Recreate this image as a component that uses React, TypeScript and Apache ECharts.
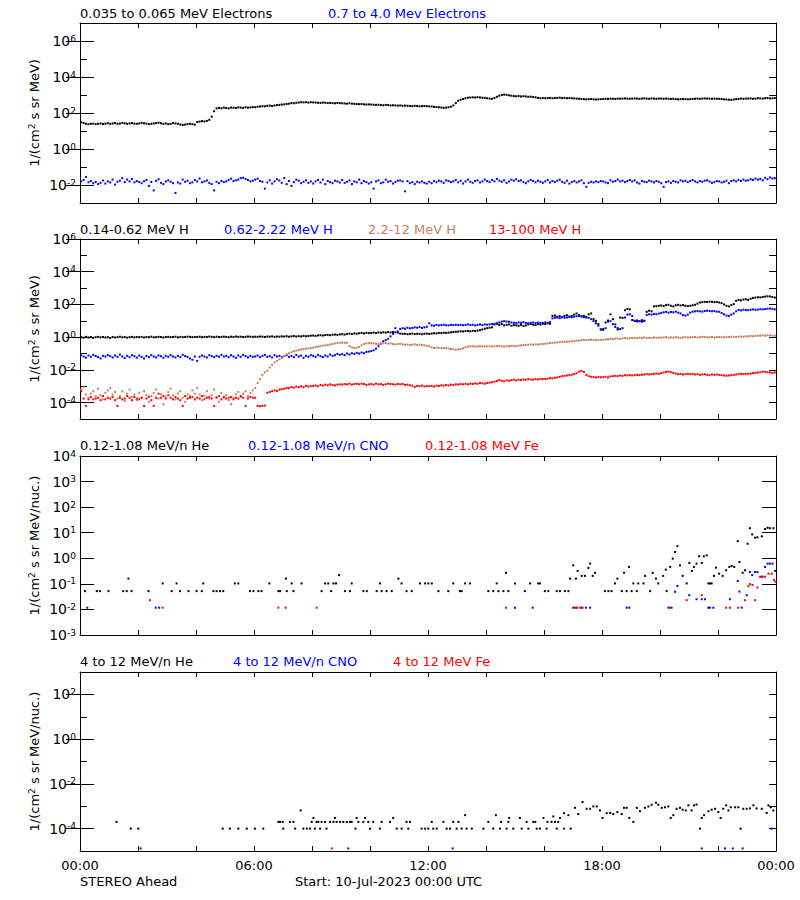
import React, { useEffect, useRef } from "react";
import * as echarts from "echarts";

const FONT = "DejaVu Sans";
const BLACK = "#000000";
const BLUE = "#0000ff";
const RED = "#ff0000";
const BROWN = "#c8805f";

// ---- Panel 1: electrons, log10 flux, 5-minute samples (12 per hour) ----
const E_LOW = [
  1.48,1.44,1.40,1.38,1.40,1.41,1.38,1.40,1.42,1.39,1.41,1.43,
  1.40,1.42,1.44,1.40,1.41,1.45,1.43,1.40,1.42,1.44,1.41,1.40,
  1.42,1.45,1.43,1.41,1.38,1.40,1.42,1.44,1.46,1.43,1.40,1.42,
  1.38,1.40,1.44,1.42,1.40,1.36,1.34,1.36,1.38,1.40,1.38,1.35,
  1.50,1.52,1.55,1.53,1.56,1.62,1.80,2.10,2.26,2.28,2.26,2.30,
  2.28,2.26,2.30,2.29,2.28,2.31,2.30,2.28,2.32,2.30,2.31,2.33,
  2.32,2.35,2.36,2.38,2.37,2.40,2.41,2.39,2.42,2.44,2.45,2.47,
  2.48,2.50,2.52,2.55,2.54,2.57,2.58,2.60,2.59,2.60,2.58,2.60,
  2.59,2.58,2.57,2.56,2.58,2.57,2.55,2.56,2.55,2.54,2.56,2.55,
  2.54,2.53,2.52,2.54,2.52,2.51,2.50,2.49,2.50,2.48,2.47,2.48,
  2.47,2.46,2.45,2.46,2.44,2.43,2.45,2.44,2.42,2.43,2.42,2.41,
  2.42,2.40,2.41,2.40,2.39,2.38,2.40,2.39,2.37,2.38,2.39,2.38,
  2.37,2.36,2.34,2.33,2.32,2.30,2.29,2.30,2.32,2.35,2.42,2.55,
  2.68,2.74,2.78,2.82,2.85,2.86,2.87,2.86,2.88,2.86,2.85,2.84,
  2.82,2.80,2.79,2.84,2.90,2.96,3.00,3.02,3.01,2.98,2.96,2.94,
  2.93,2.94,2.92,2.93,2.92,2.90,2.91,2.89,2.87,2.84,2.82,2.83,
  2.82,2.83,2.84,2.82,2.83,2.84,2.85,2.83,2.84,2.82,2.83,2.82,
  2.81,2.80,2.79,2.78,2.77,2.76,2.77,2.78,2.76,2.75,2.76,2.77,
  2.78,2.79,2.78,2.80,2.79,2.78,2.80,2.79,2.80,2.81,2.80,2.79,
  2.80,2.81,2.80,2.79,2.80,2.81,2.80,2.79,2.81,2.80,2.79,2.80,
  2.80,2.79,2.80,2.79,2.78,2.79,2.77,2.76,2.77,2.78,2.77,2.76,
  2.77,2.78,2.79,2.80,2.79,2.80,2.81,2.80,2.80,2.79,2.80,2.79,
  2.79,2.78,2.76,2.75,2.74,2.73,2.75,2.77,2.78,2.80,2.79,2.80,
  2.80,2.81,2.79,2.80,2.82,2.81,2.80,2.82,2.83,2.81,2.82,2.83,
];

const E_HIGH = [
  -1.80,-1.72,-1.55,-1.85,-1.78,-1.90,-1.83,-1.95,-1.88,-1.75,-1.92,-1.80,
  -1.86,-1.70,-1.98,-1.82,-1.76,-1.62,-1.84,-1.70,-1.80,-1.66,-1.85,-1.78,
  -1.84,-1.90,-1.79,-1.72,-2.05,-1.83,-2.30,-1.77,-1.68,-1.88,-1.95,-1.80,
  -1.74,-1.82,-1.90,-2.44,-1.86,-1.92,-1.70,-1.82,-1.76,-1.90,-1.85,-1.72,
  -1.80,-1.64,-1.85,-1.80,-1.75,-1.88,-1.95,-2.30,-1.82,-1.90,-1.78,-1.84,
  -1.80,-1.72,-1.65,-1.78,-1.74,-1.70,-1.62,-1.60,-1.66,-1.72,-1.80,-1.76,
  -1.70,-1.65,-1.78,-1.82,-2.20,-1.86,-1.74,-1.92,-1.80,-1.68,-1.75,-1.88,
  -1.62,-1.95,-1.78,-2.05,-1.84,-1.70,-1.76,-1.90,-1.82,-1.74,-1.88,-1.80,
  -1.92,-1.80,-1.72,-1.86,-1.70,-1.95,-1.78,-1.84,-1.90,-1.76,-1.80,-1.86,
  -1.72,-1.88,-1.82,-1.75,-1.95,-1.80,-1.85,-1.70,-1.90,-1.78,-1.84,-1.92,
  -1.85,-2.20,-1.80,-1.74,-1.90,-1.85,-1.70,-1.82,-1.78,-1.92,-1.84,-1.76,
  -1.75,-1.80,-2.35,-1.78,-1.90,-1.84,-1.95,-1.82,-1.86,-1.80,-1.88,-1.92,
  -1.82,-1.90,-1.78,-1.85,-1.76,-1.80,-1.88,-1.74,-1.78,-1.84,-1.80,-1.72,
  -1.85,-1.76,-1.92,-1.80,-1.70,-1.82,-1.88,-1.78,-1.74,-1.86,-1.80,-1.70,
  -1.78,-1.84,-1.72,-1.80,-1.66,-1.76,-1.82,-1.74,-1.88,-1.80,-1.70,-1.76,
  -1.68,-1.78,-1.74,-1.84,-1.90,-1.80,-1.72,-1.78,-1.85,-1.76,-1.82,-1.88,
  -1.80,-1.72,-1.86,-1.78,-1.84,-1.76,-1.70,-1.82,-1.88,-1.76,-1.92,-1.84,
  -1.78,-1.86,-1.80,-1.74,-1.90,-2.10,-1.88,-1.82,-1.86,-1.80,-1.84,-1.78,
  -1.80,-1.86,-1.90,-1.74,-1.82,-1.78,-1.70,-1.80,-1.76,-1.84,-1.78,-1.72,
  -1.80,-1.74,-1.86,-1.92,-1.78,-1.82,-1.84,-1.76,-1.80,-1.86,-1.78,-1.82,
  -1.90,-2.10,-1.84,-1.80,-1.88,-1.78,-1.82,-1.86,-1.74,-1.80,-1.76,-1.84,
  -1.78,-1.72,-1.80,-1.86,-1.78,-1.82,-1.76,-1.74,-1.80,-1.88,-1.84,-1.78,
  -1.80,-1.86,-1.82,-1.76,-1.90,-1.78,-1.74,-1.80,-1.72,-1.78,-1.70,-1.76,
  -1.74,-1.68,-1.72,-1.64,-1.70,-1.66,-1.74,-1.60,-1.68,-1.58,-1.64,-1.62,
];

// ---- Panel 2: protons, log10 flux, 5-minute samples ----
const H_LOW = [
  0.00,-0.03,0.02,-0.02,0.01,-0.04,0.00,0.02,-0.01,0.01,-0.02,0.00,
  -0.05,0.01,-0.02,0.00,0.03,-0.01,0.01,-0.03,0.00,0.02,-0.01,0.01,
  0.00,0.02,-0.02,0.01,0.00,0.03,-0.01,0.00,0.02,0.01,-0.02,0.01,
  0.02,0.00,0.01,0.03,-0.01,0.02,0.00,0.01,0.03,0.02,0.00,0.01,
  0.01,0.03,0.00,0.02,0.01,0.04,0.02,0.00,0.03,0.01,0.02,0.03,
  0.02,0.00,0.03,0.01,0.04,0.02,0.03,0.01,0.02,0.04,0.03,0.02,
  0.03,0.02,0.04,0.03,0.01,0.04,0.03,0.05,0.02,0.04,0.03,0.05,
  0.04,0.06,0.03,0.05,0.07,0.04,0.06,0.05,0.08,0.06,0.07,0.09,
  0.10,0.08,0.11,0.12,0.10,0.13,0.14,0.12,0.15,0.16,0.14,0.17,
  0.18,0.16,0.20,0.22,0.19,0.23,0.21,0.24,0.26,0.23,0.27,0.25,
  0.26,0.28,0.25,0.29,0.27,0.30,0.28,0.31,0.29,0.32,0.30,0.28,
  0.22,0.20,0.21,0.18,0.20,0.22,0.19,0.21,0.20,0.18,0.21,0.22,
  0.20,0.22,0.24,0.23,0.26,0.25,0.27,0.26,0.28,0.30,0.31,0.33,
  0.34,0.36,0.35,0.37,0.38,0.36,0.39,0.38,0.40,0.43,0.47,0.52,
  0.55,0.58,0.60,0.78,0.82,0.75,0.80,0.72,0.76,0.78,0.70,0.74,
  0.72,0.70,0.75,0.68,0.72,0.78,0.80,0.76,0.74,0.80,0.78,0.82,
  0.80,0.85,0.82,1.30,1.32,1.25,1.28,1.22,1.30,1.34,1.26,1.30,
  1.38,1.45,1.35,1.28,1.30,1.25,1.40,1.45,1.10,1.00,0.80,0.47,
  0.45,0.90,1.02,1.40,1.10,0.78,0.47,1.20,1.18,1.65,1.73,1.70,
  1.05,1.00,1.02,0.98,1.04,1.00,1.55,1.62,1.58,1.88,1.90,1.92,
  1.94,1.90,1.96,1.98,1.92,1.88,1.95,1.98,1.94,1.96,1.92,1.90,
  1.92,1.95,1.98,2.05,2.12,2.14,2.16,2.15,2.17,2.16,2.14,2.15,
  2.12,2.08,2.00,1.92,1.88,1.96,2.02,2.22,2.28,2.25,2.30,2.32,
  2.28,2.35,2.40,2.42,2.44,2.43,2.45,2.48,2.50,2.49,2.46,2.42,
];

const H_MID = [
  -1.10,-1.18,-1.25,-1.12,-1.20,-1.08,-1.15,-1.22,-1.30,-1.14,-1.18,-1.10,
  -1.16,-1.24,-1.12,-1.20,-1.06,-1.18,-1.28,-1.14,-1.22,-1.10,-1.16,-1.25,
  -1.12,-1.20,-1.30,-1.15,-1.22,-1.10,-1.18,-1.24,-1.12,-1.16,-1.26,-1.14,
  -1.20,-1.10,-1.18,-1.24,-1.14,-1.22,-1.08,-1.16,-1.20,-1.30,-1.38,-1.18,
  -1.45,-1.20,-1.12,-1.18,-1.24,-1.10,-1.16,-1.22,-1.14,-1.20,-1.08,-1.18,
  -1.14,-1.22,-1.10,-1.18,-1.26,-1.12,-1.20,-1.08,-1.16,-1.24,-1.14,-1.20,
  -1.18,-1.12,-1.22,-1.14,-1.08,-1.20,-1.16,-1.24,-1.10,-1.18,-1.14,-1.22,
  -1.16,-1.10,-1.20,-1.14,-1.22,-1.08,-1.18,-1.12,-1.26,-1.14,-1.20,-1.10,
  -1.14,-1.20,-1.08,-1.16,-1.22,-1.12,-1.18,-1.06,-1.14,-1.10,-1.02,-1.08,
  -1.04,-1.10,-1.00,-1.06,-0.98,-1.02,-0.96,-1.00,-0.94,-0.98,-0.90,-0.88,
  -0.85,-0.80,-0.70,-0.55,-0.40,-0.25,-0.18,-0.10,0.05,0.20,0.55,0.35,
  0.50,0.55,0.52,0.58,0.54,0.56,0.60,0.58,0.62,0.57,0.60,0.64,
  0.85,0.72,0.70,0.75,0.72,0.74,0.76,0.73,0.72,0.75,0.74,0.76,
  0.74,0.76,0.73,0.75,0.78,0.74,0.76,0.72,0.75,0.78,0.74,0.78,
  0.76,0.78,0.80,0.82,0.85,0.90,0.95,0.98,0.96,0.94,0.90,0.88,
  0.86,0.90,0.88,0.92,0.87,0.85,0.88,0.90,0.86,0.89,0.88,0.87,
  0.90,0.88,0.92,1.15,1.18,1.20,1.16,1.22,1.18,1.20,1.24,1.22,
  1.25,1.28,1.30,1.26,1.22,1.20,1.18,1.10,0.98,0.85,0.70,0.47,
  0.50,0.55,0.95,0.98,0.80,0.62,0.55,0.50,0.55,1.20,1.38,1.40,
  1.30,1.00,0.96,0.98,0.94,1.00,1.35,1.40,1.38,1.42,1.40,1.44,
  1.48,1.52,1.55,1.50,1.54,1.52,1.56,1.50,1.45,1.35,1.32,1.38,
  1.50,1.56,1.58,1.60,1.58,1.56,1.60,1.62,1.60,1.58,1.60,1.56,
  1.55,1.48,1.40,1.32,1.30,1.38,1.45,1.58,1.66,1.64,1.68,1.66,
  1.65,1.68,1.70,1.67,1.69,1.71,1.70,1.72,1.74,1.75,1.73,1.70,
];

const H_HIGH = [
  -3.20,-3.05,-3.50,-3.70,-3.45,-3.30,-3.60,-3.15,-3.55,-3.80,-3.40,-3.25,
  -3.10,-3.50,-3.35,-3.75,-3.60,-3.30,-3.90,-3.45,-3.20,-3.65,-3.50,-3.85,
  -3.40,-3.70,-3.30,-3.55,-3.95,-3.60,-3.40,-3.20,-3.75,-3.50,-4.10,-3.65,
  -3.35,-3.15,-3.55,-3.80,-3.45,-3.30,-3.70,-3.95,-3.50,-3.60,-3.25,-3.45,
  -3.10,-3.50,-3.85,-3.60,-3.30,-3.75,-3.55,-3.20,-3.65,-3.95,-3.40,-3.70,
  -3.55,-3.85,-4.10,-3.70,-3.50,-3.35,-3.65,-3.45,-3.30,-3.60,-3.40,-3.25,
  -3.10,-2.80,-2.55,-2.30,-2.15,-2.05,-1.85,-1.70,-1.55,-1.45,-1.35,-1.26,
  -1.15,-1.05,-0.98,-0.92,-0.86,-0.82,-0.78,-0.75,-0.72,-0.70,-0.68,-0.66,
  -0.64,-0.60,-0.58,-0.55,-0.52,-0.50,-0.48,-0.45,-0.42,-0.38,-0.35,-0.34,
  -0.33,-0.35,-0.34,-0.55,-0.62,-0.66,-0.64,-0.60,-0.50,-0.42,-0.38,-0.36,
  -0.36,-0.38,-0.40,-0.42,-0.40,-0.38,-0.36,-0.40,-0.38,-0.42,-0.44,-0.42,
  -0.40,-0.44,-0.46,-0.45,-0.48,-0.46,-0.44,-0.47,-0.45,-0.48,-0.50,-0.52,
  -0.55,-0.62,-0.66,-0.64,-0.65,-0.67,-0.66,-0.68,-0.70,-0.72,-0.74,-0.76,
  -0.75,-0.72,-0.68,-0.62,-0.58,-0.56,-0.55,-0.57,-0.56,-0.55,-0.57,-0.56,
  -0.56,-0.55,-0.57,-0.56,-0.55,-0.54,-0.56,-0.57,-0.55,-0.56,-0.54,-0.55,
  -0.54,-0.52,-0.50,-0.48,-0.46,-0.47,-0.45,-0.46,-0.44,-0.45,-0.43,-0.42,
  -0.40,-0.38,-0.36,-0.35,-0.33,-0.32,-0.30,-0.28,-0.29,-0.27,-0.26,-0.25,
  -0.24,-0.20,-0.22,-0.18,-0.16,-0.18,-0.17,-0.15,-0.17,-0.16,-0.18,-0.16,
  -0.15,-0.14,-0.12,-0.10,-0.12,-0.09,-0.08,-0.10,-0.07,-0.06,-0.08,-0.06,
  -0.05,-0.04,-0.06,-0.03,-0.05,-0.02,-0.04,-0.03,-0.05,-0.02,-0.04,-0.03,
  -0.03,-0.02,0.00,-0.04,-0.01,-0.03,0.00,-0.02,-0.04,-0.01,0.00,-0.02,
  -0.01,0.00,0.01,-0.02,0.00,0.02,0.01,-0.01,0.00,0.01,-0.02,0.00,
  0.01,0.00,-0.01,0.02,0.01,0.03,0.02,0.01,0.03,0.04,0.03,0.05,
  0.05,0.07,0.06,0.08,0.09,0.10,0.11,0.10,0.12,0.11,0.10,0.09,
];

const H_TOP = [
  -3.30,-3.75,-4.20,-3.80,-3.65,-3.80,-3.75,-3.70,-3.85,-3.60,-3.80,-3.70,
  -3.75,-3.65,-3.85,-4.20,-3.70,-3.80,-3.75,-3.60,-3.70,-3.85,-3.65,-3.75,
  -3.80,-3.70,-4.20,-3.75,-3.65,-3.85,-4.20,-3.70,-3.45,-3.70,-3.60,-3.75,
  -3.55,-3.70,-3.80,-3.65,-3.75,-3.85,-4.20,-3.60,-3.75,-3.70,-3.65,-3.80,
  -3.70,-3.75,-3.60,-3.80,-3.70,-3.65,-3.75,-4.20,-3.70,-3.60,-3.80,-3.65,
  -3.75,-3.70,-3.65,-3.80,-3.70,-3.75,-3.60,-3.70,-4.20,-3.75,-3.65,-3.70,
  -3.70,-4.20,-4.22,-4.20,-4.18,-3.40,-3.35,-3.30,-3.25,-3.28,-3.20,-3.18,
  -3.15,-3.10,-3.12,-3.05,-3.08,-3.02,-3.05,-3.00,-3.06,-2.98,-3.02,-3.00,
  -2.98,-2.95,-3.00,-2.92,-2.96,-2.90,-2.94,-2.88,-2.92,-2.95,-2.90,-2.88,
  -2.90,-2.86,-2.88,-2.84,-2.90,-2.86,-2.85,-2.88,-2.84,-2.86,-2.92,-2.88,
  -2.86,-2.90,-2.84,-2.88,-2.86,-2.92,-2.88,-2.84,-2.86,-2.88,-2.90,-2.86,
  -2.88,-2.86,-2.92,-2.90,-2.94,-2.96,-3.05,-2.98,-3.00,-2.96,-3.02,-2.98,
  -3.00,-2.98,-3.02,-2.96,-2.98,-2.94,-2.96,-2.92,-2.95,-2.90,-2.92,-2.88,
  -2.90,-2.86,-2.88,-2.85,-2.88,-2.84,-2.86,-2.82,-2.85,-2.80,-2.82,-2.84,
  -2.80,-2.78,-2.76,-2.72,-2.68,-2.62,-2.66,-2.70,-2.64,-2.66,-2.62,-2.60,
  -2.64,-2.60,-2.62,-2.58,-2.60,-2.56,-2.58,-2.60,-2.56,-2.58,-2.55,-2.56,
  -2.56,-2.54,-2.50,-2.52,-2.48,-2.46,-2.42,-2.38,-2.36,-2.34,-2.32,-2.30,
  -2.25,-2.20,-2.10,-2.06,-2.12,-2.30,-2.38,-2.42,-2.44,-2.46,-2.44,-2.45,
  -2.44,-2.42,-2.46,-2.40,-2.38,-2.36,-2.38,-2.34,-2.36,-2.32,-2.34,-2.32,
  -2.34,-2.32,-2.30,-2.32,-2.30,-2.28,-2.26,-2.28,-2.26,-2.24,-2.22,-2.24,
  -2.20,-2.16,-2.12,-2.10,-2.14,-2.18,-2.22,-2.26,-2.24,-2.28,-2.26,-2.24,
  -2.26,-2.24,-2.28,-2.26,-2.30,-2.28,-2.26,-2.30,-2.32,-2.28,-2.30,-2.28,
  -2.30,-2.32,-2.34,-2.36,-2.34,-2.32,-2.30,-2.28,-2.26,-2.24,-2.26,-2.24,
  -2.24,-2.22,-2.20,-2.18,-2.16,-2.14,-2.10,-2.12,-2.14,-2.16,-2.18,-2.16,
];

// ---- Panel 3: 0.12-1.08 MeV/n ions, [hour, flux] (zero counts omitted) ----
const P3_HE = [
  [0.17,0.052],[0.58,0.052],[0.69,0.052],[0.98,0.052],[1.49,0.052],[1.61,0.052],[1.67,0.16],[1.78,0.052],
  [2.36,0.052],[2.85,0.104],[3.16,0.052],[3.33,0.104],[3.45,0.052],[3.74,0.052],[4.02,0.052],[4.2,0.052],
  [4.25,0.104],[4.6,0.052],[4.71,0.052],[4.83,0.052],[4.94,0.052],[5.34,0.104],[5.46,0.104],[5.86,0.052],
  [5.98,0.052],[6.15,0.052],[6.26,0.052],[6.53,0.104],[6.84,0.052],[6.9,0.052],[7.1,0.16],[7.13,0.052],
  [7.3,0.104],[7.36,0.052],[7.64,0.104],[8.33,0.052],[8.45,0.104],[8.56,0.104],[8.66,0.052],[8.74,0.104],
  [8.83,0.104],[8.93,0.22],[9.14,0.052],[9.31,0.052],[9.37,0.104],[9.77,0.052],[9.89,0.052],[10.23,0.052],
  [10.34,0.104],[10.4,0.052],[10.57,0.052],[10.75,0.052],[10.98,0.16],
  [11.09,0.104],[11.26,0.052],[11.44,0.052],[11.72,0.104],[11.9,0.104],[12.01,0.104],[12.13,0.104],[12.36,0.052],
  [12.7,0.052],[12.87,0.104],[13.1,0.052],[13.16,0.052],[13.28,0.104],[13.45,0.104],[14.08,0.052],[14.25,0.052],
  [14.37,0.104],[14.43,0.052],[14.6,0.052],[14.69,0.27],[14.77,0.052],[15.0,0.104],[15.34,0.052],[15.52,0.104],
  [15.8,0.104],[15.86,0.104],[16.03,0.052],[16.15,0.052],[16.44,0.052],[16.55,0.052],[16.72,0.052],[16.84,0.052],
  [16.9,0.16],[17.01,0.53],[17.1,0.16],[17.16,0.32],[17.3,0.205],[17.41,0.205],[17.53,0.42],[17.59,0.62],
  [17.68,0.205],[17.76,0.27],[18.1,0.052],[18.22,0.052],[18.33,0.052],[18.45,0.104],[18.53,0.16],[18.68,0.052],
  [18.76,0.27],[18.85,0.052],[18.93,0.46],[19.02,0.052],[19.08,0.104],[19.2,0.052],[19.25,0.104],[19.43,0.104],
  [19.48,0.205],[19.66,0.052],[19.75,0.27],[19.86,0.16],[19.94,0.104],[20.11,0.205],[20.2,0.36],[20.23,0.052],
  [20.35,0.46],[20.44,0.97],[20.52,1.76],[20.6,3.0],[20.69,0.53],[20.78,0.205],[20.92,0.104],[21.01,0.66],
  [21.1,0.32],[21.17,0.46],[21.26,0.62],[21.35,1.2],[21.44,0.66],[21.51,1.2],[21.61,1.3],[21.67,0.104],
  [21.72,0.104],[21.78,0.104],[21.86,0.205],[21.93,0.43],[22.04,0.25],[22.16,0.205],[22.28,0.34],[22.39,0.46],
  [22.47,0.5],[22.56,0.46],[22.68,4.7],[22.74,0.72],[22.85,0.27],[22.93,0.34],[23.02,3.7],[23.1,15],
  [23.18,8.6],[23.28,6.4],[23.36,6.6],[23.51,7.2],[23.62,14],[23.71,15.7],[23.79,15],[23.91,15],
];

const P3_CNO = [
  [0.25,0.0117],[2.61,0.0117],[2.73,0.0117],[15.0,0.0117],[15.61,0.0117],[17.01,0.0117],[17.13,0.0117],[17.3,0.0117],
  [17.44,0.0117],[17.59,0.0117],[18.85,0.0117],[18.94,0.0117],[20.29,0.0117],[20.4,0.0117],[20.52,0.049],[20.6,0.083],
  [21.01,0.036],[21.26,0.025],[21.44,0.025],[21.55,0.025],[21.67,0.0117],[21.72,0.0117],[21.84,0.0117],[22.41,0.025],
  [22.68,0.13],[22.74,0.05],[22.82,0.0117],[22.99,0.036],[23.1,0.29],[23.18,0.22],[23.28,0.29],[23.36,0.29],
  [23.51,0.19],[23.62,0.46],[23.71,0.62],[23.79,0.62],[23.88,0.62],[23.97,0.32],
];

const P3_FE = [
  [2.41,0.023],[2.85,0.0117],[6.84,0.0117],[7.09,0.0117],[8.16,0.0117],[14.69,0.0117],[17.07,0.0117],[17.13,0.0117],
  [17.24,0.0117],[17.33,0.0117],[20.35,0.0117],[20.92,0.023],[21.44,0.036],[22.28,0.0117],[22.41,0.0117],[22.7,0.0117],
  [22.93,0.023],[23.05,0.081],[23.1,0.098],[23.19,0.09],[23.28,0.023],[23.36,0.072],[23.45,0.19],[23.54,0.19],
  [23.62,0.19],[23.74,0.25],[23.85,0.25],[23.93,0.14],[23.99,0.12],
];

// ---- Panel 4: 4-12 MeV/n ions, [hour, flux] ----
const P4_HE = [
  [1.26,2e-4],[1.75,1e-4],[2.01,1e-4],[4.92,1e-4],[5.17,1e-4],[5.46,1e-4],[5.75,1e-4],[6.03,1e-4],
  [6.32,1e-4],[6.84,2e-4],[6.9,2e-4],[6.99,2e-4],[7.01,1e-4],[7.24,2e-4],[7.36,2e-4],[7.42,1e-4],
  [7.61,6.5e-4],[7.7,1e-4],[7.82,1e-4],[7.93,1e-4],[7.99,2e-4],[8.05,3e-4],[8.1,1e-4],[8.16,2e-4],
  [8.22,2e-4],[8.28,1e-4],[8.33,2e-4],[8.45,2e-4],[8.5,1e-4],[8.62,2e-4],[8.74,2e-4],[8.79,3e-4],
  [8.85,2e-4],[8.97,2e-4],[9.08,2e-4],[9.2,2e-4],[9.31,2e-4],[9.37,2e-4],[9.5,1e-4],[9.54,3e-4],
  [9.6,2e-4],[9.77,2e-4],[9.83,3e-4],[9.94,2e-4],[10.0,1e-4],[10.11,2e-4],[10.34,1e-4],[10.4,2e-4],
  [10.69,2e-4],[10.8,3e-4],[10.92,1e-4],
  [11.09,1e-4],[11.26,2e-4],[11.32,1e-4],[11.38,2e-4],[11.78,1e-4],[11.9,1e-4],[12.01,1e-4],[12.13,2e-4],
  [12.18,1e-4],[12.3,1e-4],[12.53,2e-4],[12.64,1e-4],[12.76,1e-4],[12.87,2e-4],[12.99,1e-4],[13.05,2e-4],
  [13.16,1e-4],[13.28,4e-4],[13.33,1e-4],[13.51,1e-4],[13.91,1e-4],[14.08,2e-4],[14.25,1e-4],[14.34,4e-4],
  [14.48,1e-4],[14.52,2e-4],[14.71,1e-4],[14.77,2e-4],[14.8,3e-4],[14.94,1e-4],[15.17,3e-4],[15.23,1e-4],
  [15.4,2e-4],[15.46,1e-4],[15.63,2e-4],[15.7,2e-4],[15.75,1e-4],[15.86,1e-4],[15.98,3e-4],[16.09,1e-4],
  [16.12,2e-4],[16.26,2e-4],[16.32,3.5e-4],[16.38,2e-4],[16.44,1e-4],[16.49,2e-4],[16.55,3e-4],[16.69,4.9e-4],
  [16.84,4e-4],[16.92,1e-4],[17.07,8.5e-4],[17.18,4.5e-4],[17.33,1.55e-3],[17.47,7.7e-4],[17.59,7.7e-4],[17.7,9.8e-4],
  [17.82,9.8e-4],[17.93,6.5e-4],[18.02,3e-4],[18.16,4.9e-4],[18.28,5e-4],[18.39,4.5e-4],[18.53,5.5e-4],[18.68,4.5e-4],
  [18.76,8.5e-4],[18.85,8.5e-4],[18.94,3e-4],[19.08,2e-4],[19.2,8.5e-4],[19.31,6e-4],[19.48,8.5e-4],[19.6,9.8e-4],
  [19.71,1.17e-3],[19.86,1.44e-3],[19.94,1.17e-3],[20.06,8.5e-4],[20.17,9e-4],[20.29,9.8e-4],[20.37,3e-4],[20.46,4e-4],
  [20.57,7.7e-4],[20.69,8.5e-4],[20.78,7e-4],[20.89,6.5e-4],[20.98,1.1e-3],[21.09,6.5e-4],[21.17,1.1e-3],[21.26,1.2e-3],
  [21.38,1e-4],[21.44,3e-4],[21.52,4e-4],[21.67,6e-4],[21.78,7e-4],[21.9,7.7e-4],[22.01,5.5e-4],[22.09,3e-4],
  [22.18,7.7e-4],[22.28,1.1e-3],[22.36,6.5e-4],[22.44,9e-4],[22.59,9e-4],[22.7,9e-4],[22.78,1e-4],[22.87,7.7e-4],
  [22.99,7.7e-4],[23.1,8e-4],[23.22,1.1e-3],[23.33,8e-4],[23.51,7.7e-4],[23.68,5e-4],[23.74,1.1e-3],[23.82,9e-4],
  [23.91,6.5e-4],
];

const P4_CNO = [
  [2.09,1.3e-5],[9.25,1.3e-5],[12.85,1.3e-5],[16.69,1e-4],[21.44,1.3e-5],[22.24,1.3e-5],[22.51,1.3e-5],[22.85,1.3e-5],
  [23.85,1e-4],
];

const P4_FE = [[8.68,1.3e-5]];

// ---- Axes: exponent ranges and labelled decades ----
const Y_MIN = [-3, -5, -3, -5];
const Y_MAX = [7, 6, 4, 3];
const Y_LABELED = [
  [-2, 0, 2, 4, 6],
  [-4, -2, 0, 2, 4, 6],
  [-3, -2, -1, 0, 1, 2, 3, 4],
  [-4, -2, 0, 2],
];
const TIME_TICKS = [0, 6, 12, 18, 24];
const TIME_LABELS = ["00:00", "06:00", "12:00", "18:00", "00:00"];

const TITLES = [
  [["0.035 to 0.065 MeV Electrons", BLACK], ["0.7 to 4.0 Mev Electrons", BLUE]],
  [["0.14-0.62 MeV H", BLACK], ["0.62-2.22 MeV H", BLUE], ["2.2-12 MeV H", BROWN], ["13-100 MeV H", RED]],
  [["0.12-1.08 MeV/n He", BLACK], ["0.12-1.08 MeV/n CNO", BLUE], ["0.12-1.08 MeV Fe", RED]],
  [["4 to 12 MeV/n He", BLACK], ["4 to 12 MeV/n CNO", BLUE], ["4 to 12 MeV Fe", RED]],
];
const UNIT_NAMES = ["MeV)", "MeV)", "MeV/nuc.)", "MeV/nuc.)"];

// ---- Layout ----
const LAYOUT = {
  left: 80,
  width: 696,
  tops: [23, 239, 456, 672],
  heights: [180, 180, 179, 179],
  titleY: [13, 229, 445, 661],
  titleX: [[80, 328], [80, 224, 368, 489], [80, 248, 425], [80, 233, 393]],
};

const dense = (arr: number[]) => arr.map((v, i) => [(i + 0.5) / 12, v]);
const sparse = (arr: number[][]) => arr.map(([h, v]) => [h, Math.log10(v)]);

function buildOption() {
  const grid: any[] = [];
  const xAxis: any[] = [];
  const yAxis: any[] = [];
  const mainY: number[] = [];
  const graphic: any[] = [];

  const labelRich = {
    b: { fontSize: 14, fontFamily: FONT, color: BLACK },
    e: { fontSize: 9, fontFamily: FONT, color: BLACK, verticalAlign: "top" },
  };

  for (let p = 0; p < 4; p++) {
    grid.push({ left: LAYOUT.left, top: LAYOUT.tops[p], width: LAYOUT.width, height: LAYOUT.heights[p] });

    const xBase = {
      type: "value",
      gridIndex: p,
      min: 0,
      max: 24,
      interval: 2,
      splitLine: { show: false },
      axisLine: { show: true, onZero: false, lineStyle: { color: BLACK, width: 1 } },
      axisTick: { show: true, inside: true, length: 5, lineStyle: { color: BLACK, width: 1 } },
    };
    xAxis.push({
      ...xBase,
      position: "bottom",
      axisLabel:
        p === 3
          ? {
              show: true,
              margin: 8,
              showMinLabel: true,
              showMaxLabel: true,
              fontSize: 13,
              fontFamily: FONT,
              color: BLACK,
              formatter: (v: number) => {
                const k = TIME_TICKS.indexOf(Math.round(v));
                return k >= 0 && Math.abs(v - Math.round(v)) < 1e-6 ? TIME_LABELS[k] : "";
              },
            }
          : { show: false },
    });
    xAxis.push({ ...xBase, position: "top", axisLabel: { show: false } });

    const allLong = p === 2;
    const yBase = {
      type: "value",
      gridIndex: p,
      min: Y_MIN[p],
      max: Y_MAX[p],
      interval: 1,
      splitLine: { show: false },
      axisLine: { show: true, onZero: false, lineStyle: { color: BLACK, width: 1 } },
    };
    const tickMain = { show: true, inside: true, length: allLong ? 14 : 7, lineStyle: { color: BLACK, width: 1 } };
    mainY.push(yAxis.length);
    yAxis.push({
      ...yBase,
      position: "left",
      axisTick: tickMain,
      axisLabel: {
        show: true,
        margin: 4,
        showMinLabel: true,
        showMaxLabel: true,
        formatter: (v: number) => {
          const r = Math.round(v);
          return Y_LABELED[p].includes(r) && Math.abs(v - r) < 1e-6 ? `{b|10}{e|${r}}` : "";
        },
        rich: labelRich,
      },
    });
    yAxis.push({ ...yBase, position: "right", axisTick: tickMain, axisLabel: { show: false } });
    if (!allLong) {
      const tickLong = {
        show: true,
        inside: true,
        length: 14,
        customValues: Y_LABELED[p],
        lineStyle: { color: BLACK, width: 1 },
      };
      yAxis.push({ ...yBase, position: "left", axisLine: { show: false }, axisTick: tickLong, axisLabel: { show: false } });
      yAxis.push({ ...yBase, position: "right", axisLine: { show: false }, axisTick: tickLong, axisLabel: { show: false } });
    }

    // titles
    TITLES[p].forEach(([text, color], k) => {
      graphic.push({
        type: "text",
        x: LAYOUT.titleX[p][k],
        y: LAYOUT.titleY[p],
        silent: true,
        style: { text, fill: color, fontSize: 13, fontFamily: FONT, align: "left", verticalAlign: "middle" },
      });
    });
    // y axis name
    graphic.push({
      type: "text",
      x: 34,
      y: LAYOUT.tops[p] + LAYOUT.heights[p] / 2,
      rotation: Math.PI / 2,
      silent: true,
      style: {
        text: `{n|1/(cm}{s|2}{n| s sr ${UNIT_NAMES[p]}}`,
        align: "center",
        verticalAlign: "middle",
        rich: {
          n: { fontSize: 13, fontFamily: FONT, fill: BLACK },
          s: { fontSize: 9, fontFamily: FONT, fill: BLACK, verticalAlign: "top" },
        },
      },
    });
  }

  graphic.push({
    type: "text",
    x: 80,
    y: 881,
    silent: true,
    style: { text: "STEREO Ahead", fill: BLACK, fontSize: 13, fontFamily: FONT, align: "left", verticalAlign: "middle" },
  });
  graphic.push({
    type: "text",
    x: 295,
    y: 881,
    silent: true,
    style: {
      text: "Start: 10-Jul-2023 00:00 UTC",
      fill: BLACK,
      fontSize: 13,
      fontFamily: FONT,
      align: "left",
      verticalAlign: "middle",
    },
  });

  const sc = (name: string, data: number[][], color: string, p: number) => ({
    type: "scatter",
    name,
    xAxisIndex: 2 * p,
    yAxisIndex: mainY[p],
    data,
    symbol: "rect",
    symbolSize: 2,
    itemStyle: { color, opacity: 1 },
    silent: true,
    clip: true,
    emphasis: { disabled: true },
  });

  const series = [
    sc("0.035-0.065 MeV e", dense(E_LOW), BLACK, 0),
    sc("0.7-4.0 MeV e", dense(E_HIGH), BLUE, 0),
    sc("0.14-0.62 MeV H", dense(H_LOW), BLACK, 1),
    sc("0.62-2.22 MeV H", dense(H_MID), BLUE, 1),
    sc("2.2-12 MeV H", dense(H_HIGH), BROWN, 1),
    sc("13-100 MeV H", dense(H_TOP), RED, 1),
    sc("0.12-1.08 He", sparse(P3_HE), BLACK, 2),
    sc("0.12-1.08 CNO", sparse(P3_CNO), BLUE, 2),
    sc("0.12-1.08 Fe", sparse(P3_FE), RED, 2),
    sc("4-12 He", sparse(P4_HE), BLACK, 3),
    sc("4-12 CNO", sparse(P4_CNO), BLUE, 3),
    sc("4-12 Fe", sparse(P4_FE), RED, 3),
  ];

  return {
    animation: false,
    backgroundColor: "#ffffff",
    textStyle: { fontFamily: FONT },
    grid,
    xAxis,
    yAxis,
    series,
    graphic,
  };
}

export default function App() {
  const ref = useRef<HTMLDivElement>(null);
  useEffect(() => {
    if (!ref.current) return;
    const chart = echarts.init(ref.current, undefined, { renderer: "svg" });
    chart.setOption(buildOption() as any);
    return () => chart.dispose();
  }, []);
  return (
    <div
      ref={ref}
      style={{ position: "absolute", left: 0, top: 0, width: 800, height: 900, background: "#fff" }}
    />
  );
}
